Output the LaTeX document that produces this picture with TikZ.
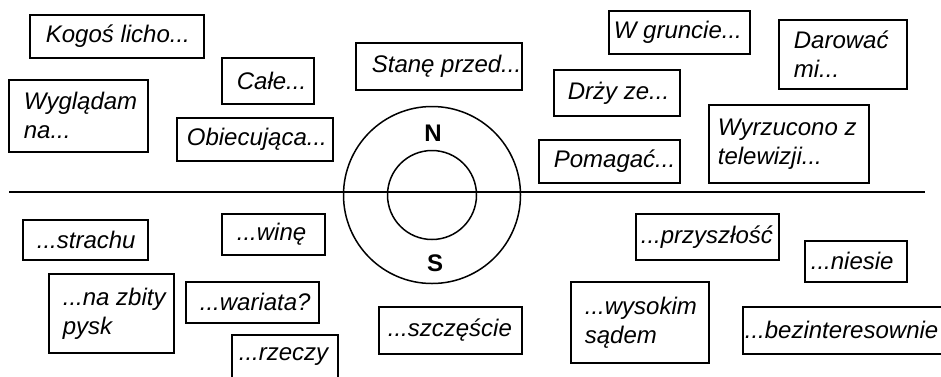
\documentclass[tikz,border=0pt]{standalone}
\usepackage{fontspec}
\setmainfont{Liberation Sans}
% left padding (pt), remaining width (pt), text
\newcommand\cardtext[3]{\hspace*{#1pt}\parbox{#2pt}{\raggedright\itshape #3}}
\begin{document}
\begin{tikzpicture}[x=1pt,y=-1pt,
  card/.style={draw, line width=1.7pt, inner sep=0pt, anchor=north west,
    font=\fontsize{24}{29}\selectfont},
  ring/.style={draw, circle, line width=1.5pt, inner sep=0pt},
  pole/.style={font=\fontsize{24}{24}\selectfont\bfseries, inner sep=0pt},
  divider/.style={line width=1.8pt}]
\clip (0,0) rectangle (941,376);

% compass rings and the dividing line
\node[ring, minimum size=177pt] (outer) at (432,195) {};
\node[ring, minimum size=89pt] (inner) at (432,195) {};
\coordinate (lineL) at (9,192);
\coordinate (lineR) at (925,192);
\draw[divider] (lineL) -- (lineR);
\node[pole] (north) at (433,133) {N};
\node[pole] (south) at (435,263) {S};

% upper half
\node[card, minimum width=174pt, minimum height=43pt] (kogos) at (29,14) {\cardtext{16}{158}{Kogoś licho...}};
\node[card, minimum width=92pt, minimum height=46pt] (cale) at (221,57) {\cardtext{15}{77}{Całe...}};
\node[card, minimum width=139pt, minimum height=72pt] (wygladam) at (8,79) {\cardtext{15}{124}{Wyglądam\\na...}};
\node[card, minimum width=156pt, minimum height=43pt] (obiecujaca) at (176,117) {\cardtext{10}{146}{Obiecująca...}};
\node[card, minimum width=166pt, minimum height=47pt] (stane) at (355,42) {\cardtext{16}{150}{Stanę przed...}};
\node[card, minimum width=141pt, minimum height=43pt] (wgruncie) at (608,10) {\cardtext{5}{136}{W gruncie...}};
\node[card, minimum width=126pt, minimum height=46pt] (drzy) at (553,69) {\cardtext{14}{112}{Drży ze...}};
\node[card, minimum width=141pt, minimum height=43pt] (pomagac) at (538,139) {\cardtext{15}{126}{Pomagać...}};
\node[card, minimum width=128pt, minimum height=69pt] (darowac) at (778,19) {\cardtext{15}{113}{Darować\\mi...}};
\node[card, minimum width=160pt, minimum height=78pt] (wyrzucono) at (708,104) {\cardtext{9}{151}{Wyrzucono z\\telewizji...}};

% lower half
\node[card, minimum width=125pt, minimum height=40pt] (strachu) at (22,219) {\cardtext{14}{111}{...strachu}};
\node[card, minimum width=103pt, minimum height=41pt] (wine) at (221,213) {\cardtext{15}{88}{...winę}};
\node[card, minimum width=125pt, minimum height=79pt] (nazbity) at (48,273) {\cardtext{14}{111}{...na zbity\\pysk}};
\node[card, minimum width=133pt, minimum height=41pt] (wariata) at (185,281) {\cardtext{14}{119}{...wariata?}};
\node[card, minimum width=106pt, minimum height=44pt] (rzeczy) at (231,334) {\cardtext{7}{99}{...rzeczy}};
\node[card, minimum width=143pt, minimum height=47pt] (szczescie) at (378,306) {\cardtext{9}{134}{...szczęście}};
\node[card, minimum width=138pt, minimum height=81pt] (wysokim) at (570,281) {\cardtext{14}{124}{...wysokim\\sądem}};
\node[card, minimum width=143pt, minimum height=46pt] (przyszlosc) at (635,213) {\cardtext{5}{138}{...przyszłość}};
\node[card, minimum width=102pt, minimum height=41pt] (niesie) at (804,240) {\cardtext{6}{96}{...niesie}};
\node[card, minimum width=220pt, minimum height=47pt] (bezint) at (742,306) {\cardtext{2}{218}{...bezinteresownie}};
\end{tikzpicture}
\end{document}
